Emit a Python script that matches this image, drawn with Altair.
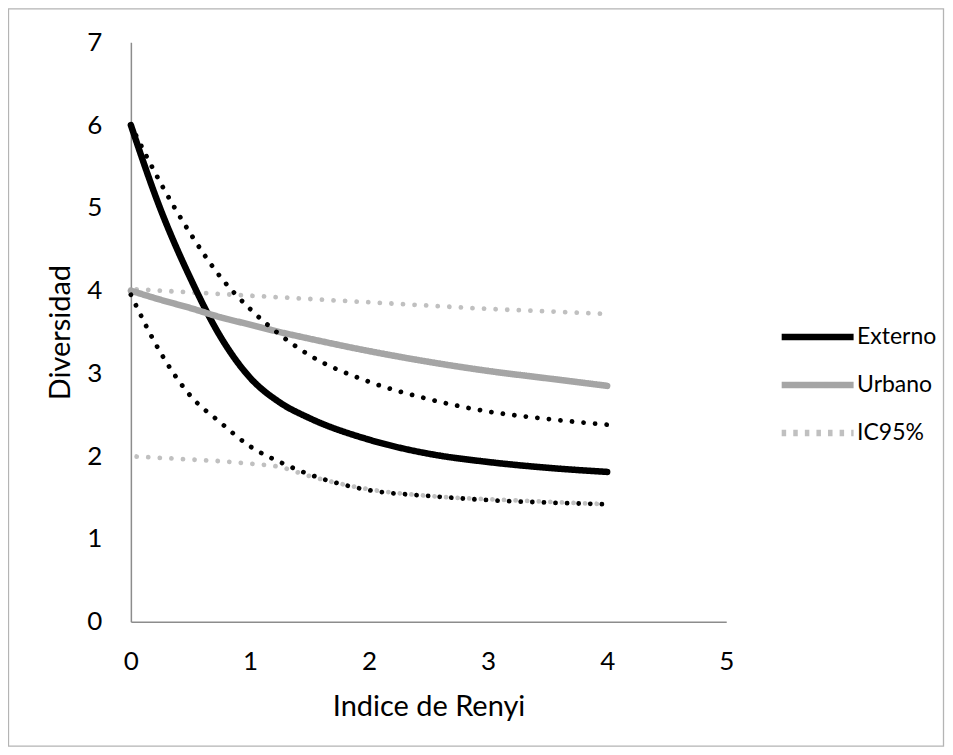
import altair as alt
import pandas as pd

# ---- data ----
x_vals = [0, 0.25, 0.5, 0.75, 1, 1.25, 1.5, 2, 2.5, 3, 3.5, 4]
externo = [6.0, 4.98, 4.15, 3.45, 2.95, 2.65, 2.46, 2.20, 2.03, 1.93, 1.86, 1.81]
externo_sup = [6.0, 5.30, 4.69, 4.17, 3.78, 3.47, 3.22, 2.90, 2.69, 2.54, 2.45, 2.38]
externo_inf = [3.95, 3.25, 2.73, 2.41, 2.12, 1.93, 1.78, 1.59, 1.52, 1.47, 1.44, 1.42]
urbano = [4.0, 3.89, 3.79, 3.68, 3.59, 3.50, 3.42, 3.27, 3.14, 3.03, 2.94, 2.85]
urbano_sup = [4.02, 4.00, 3.98, 3.96, 3.94, 3.92, 3.90, 3.86, 3.82, 3.78, 3.75, 3.72]
urbano_inf = [2.0, 1.98, 1.96, 1.94, 1.91, 1.87, 1.76, 1.60, 1.52, 1.48, 1.45, 1.42]

series_names = ["Externo", "Urbano", "IC95%"]
series_colors = ["#000000", "#a5a5a5", "#c0c0c0"]
x_ticks = [0, 1, 2, 3, 4, 5]
y_ticks = [0, 1, 2, 3, 4, 5, 6, 7]

main_rows = []
for serie, vals in [("Externo", externo), ("Urbano", urbano)]:
    for xi, v in zip(x_vals, vals):
        main_rows.append({"x": xi, "y": v, "serie": serie})
main_df = pd.DataFrame(main_rows)

ci_rows = []
for grupo, linea, vals in [("Externo", "E_sup", externo_sup), ("Externo", "E_inf", externo_inf),
                           ("Urbano", "U_sup", urbano_sup), ("Urbano", "U_inf", urbano_inf)]:
    for xi, v in zip(x_vals, vals):
        ci_rows.append({"x": xi, "y": v, "grupo": grupo, "linea": linea})
ci_df = pd.DataFrame(ci_rows)

W, H = 596, 580
FONT = "Lato"
DOT = [0.01, 11.6]

x_enc = alt.X("x:Q", scale=alt.Scale(domain=[0, 5], nice=False),
              axis=alt.Axis(values=x_ticks, title="Indice de Renyi", labelPadding=27,
                            labelFlush=False, titlePadding=18))
y_enc = alt.Y("y:Q", scale=alt.Scale(domain=[0, 7], nice=False),
              axis=alt.Axis(values=y_ticks, title="Diversidad", labelPadding=29,
                            labelFlush=False, titleX=-70, titleY=H / 2,
                            titleBaseline="middle", titleAngle=270))

# confidence-interval lines (dotted, round dots), no legend of their own
ci_black = alt.Chart(ci_df).transform_filter(alt.datum.grupo == "Externo").mark_line(
    interpolate="monotone", strokeCap="round", color="#000000",
    strokeWidth=4.8, strokeDash=DOT
).encode(x=x_enc, y=y_enc, detail="linea:N")

ci_gray = alt.Chart(ci_df).transform_filter(alt.datum.grupo == "Urbano").mark_line(
    interpolate="monotone", strokeCap="round", color=series_colors[2],
    strokeWidth=4.8, strokeDash=DOT, strokeDashOffset=5.8
).encode(x=x_enc, y=y_enc, detail="linea:N")

main_layer = alt.Chart(main_df).mark_line(
    interpolate="monotone", strokeCap="round"
).encode(
    x=x_enc, y=y_enc,
    color=alt.Color("serie:N", scale=alt.Scale(domain=series_names, range=series_colors),
                    legend=alt.Legend(orient="none", legendX=648, legendY=271, title=None,
                                      symbolType="stroke", symbolSize=5184,
                                      labelFontSize=23, labelFont=FONT, labelColor="#000000",
                                      rowPadding=0, clipHeight=48, labelOffset=0, padding=0)),
    strokeDash=alt.StrokeDash("serie:N", scale=alt.Scale(domain=series_names,
                                                         range=[[1, 0], [1, 0], [4.5, 7.1]])),
    strokeWidth=alt.StrokeWidth("serie:N", scale=alt.Scale(domain=series_names,
                                                           range=[6.5, 6.5, 4.5])),
)

frame = alt.Chart(alt.Data(values=[{}])).mark_rect(
    fill="transparent", stroke="#b4b4b4", strokeWidth=1.3
).encode(x=alt.value(-122.5), x2=alt.value(W + 217.5),
         y=alt.value(-33.5), y2=alt.value(H + 124.5))

chart = alt.layer(frame, ci_gray, main_layer, ci_black).properties(
    width=W, height=H,
    autosize=alt.AutoSizeParams(type="none"),
    padding={"left": 123, "top": 34, "right": 219, "bottom": 126},
).configure_view(stroke=None).configure_axis(
    grid=False, ticks=False, tickSize=0, domainColor="#8c8c8c", domainWidth=1.5,
    labelFont=FONT, labelFontSize=26, labelColor="#000000", labelFontWeight="normal",
    titleFont=FONT, titleFontSize=29, titleColor="#000000", titleFontWeight="normal",
)

chart.save("out.html", embed_options={"renderer": "svg", "actions": False})
